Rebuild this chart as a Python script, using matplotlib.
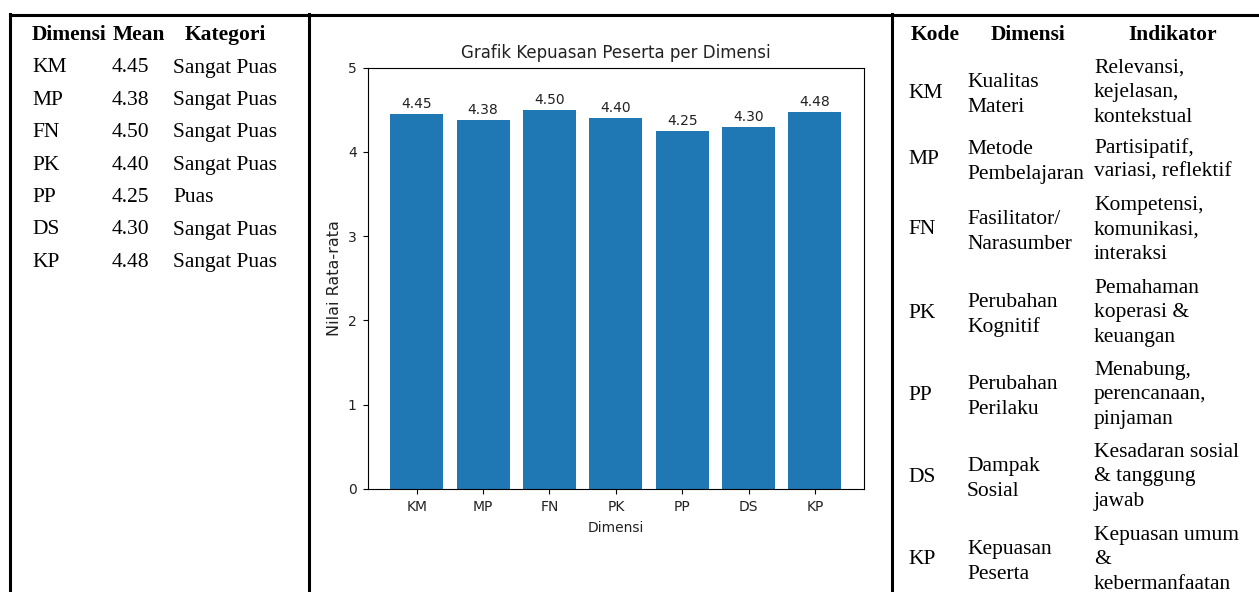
import matplotlib
matplotlib.use("Agg")
import matplotlib.pyplot as plt
from matplotlib.lines import Line2D

# Data
codes = ["KM", "MP", "FN", "PK", "PP", "DS", "KP"]
means = [4.45, 4.38, 4.50, 4.40, 4.25, 4.30, 4.48]
categories = ["Sangat Puas", "Sangat Puas", "Sangat Puas", "Sangat Puas",
              "Puas", "Sangat Puas", "Sangat Puas"]
dim_names = ["Kualitas\nMateri", "Metode\nPembelajaran", "Fasilitator/\nNarasumber",
             "Perubahan\nKognitif", "Perubahan\nPerilaku", "Dampak\nSosial",
             "Kepuasan\nPeserta"]
indicators = ["Relevansi,\nkejelasan,\nkontekstual",
              "Partisipatif,\nvariasi, reflektif",
              "Kompetensi,\nkomunikasi,\ninteraksi",
              "Pemahaman\nkoperasi &\nkeuangan",
              "Menabung,\nperencanaan,\npinjaman",
              "Kesadaran sosial\n& tanggung\njawab",
              "Kepuasan umum\n&\nkebermanfaatan"]

W, H = 1259, 592
fig = plt.figure(figsize=(W / 100, H / 100), dpi=100, facecolor="white")

def fx(x):
    return x / W

def fy(y):
    return 1 - y / H

SERIF = "Liberation Serif"
FS = 15.5

# cell borders
def hline(x0, x1, y):
    fig.add_artist(Line2D([fx(x0), fx(x1)], [fy(y), fy(y)], color="black", lw=2.2))

def vline(x, y0, y1):
    fig.add_artist(Line2D([fx(x), fx(x)], [fy(y0), fy(y1)], color="black", lw=2.2))

hline(9.5, W, 14.5)
vline(10.5, 13.5, H)
vline(308.5, 13.5, H)
vline(891.5, 13.5, H)

# left table
left_cols = [32, 112, 173]
fig.text(fx(32), fy(35), "Dimensi", fontsize=FS, fontweight="bold", family=SERIF, va="center")
fig.text(fx(113), fy(35), "Mean", fontsize=FS, fontweight="bold", family=SERIF, va="center")
fig.text(fx(185), fy(35), "Kategori", fontsize=FS, fontweight="bold", family=SERIF, va="center")
for i, (c, m, k) in enumerate(zip(codes, means, categories)):
    y = 68 + 32.4 * i
    fig.text(fx(left_cols[0]), fy(y), c, fontsize=FS, family=SERIF, va="center")
    fig.text(fx(left_cols[1]), fy(y), f"{m:.2f}", fontsize=FS, family=SERIF, va="center")
    fig.text(fx(left_cols[2]), fy(y), k, fontsize=FS, family=SERIF, va="center")

# right table
fig.text(fx(911), fy(35), "Kode", fontsize=FS, fontweight="bold", family=SERIF, va="center")
fig.text(fx(1028), fy(35), "Dimensi", fontsize=FS, fontweight="bold", family=SERIF,
         va="center", ha="center")
fig.text(fx(1173), fy(35), "Indikator", fontsize=FS, fontweight="bold", family=SERIF,
         va="center", ha="center")
row_centers = [93, 160, 230, 313, 395, 477, 560]
LS = 24.5

def block(x, yc, txt):
    lines = txt.split("\n")
    n = len(lines)
    for j, ln in enumerate(lines):
        y = yc + (j - (n - 1) / 2) * LS
        fig.text(fx(x), fy(y), ln, fontsize=FS, family=SERIF, va="center")

for c, d, ind, yc in zip(codes, dim_names, indicators, row_centers):
    fig.text(fx(908), fy(yc), c, fontsize=FS, family=SERIF, va="center")
    block(967, yc + 2, d)
    block(1094, yc, ind)

# chart
ax = fig.add_axes([fx(367.7), fy(489), fx(864) - fx(367.7), (489 - 67.7) / H])
bars = ax.bar(codes, means, color="#1f77b4")
ax.bar_label(bars, labels=[f"{m:.2f}" for m in means], padding=2, fontsize=10,
             color="#222222")
ax.set_ylim(0, 5)
ax.tick_params(labelsize=10, labelcolor="#222222", pad=4.5)
ax.set_title("Grafik Kepuasan Peserta per Dimensi", fontsize=12, color="#222222", pad=7)
ax.set_xlabel("Dimensi", fontsize=10, labelpad=5, color="#222222")
ax.set_ylabel("Nilai Rata-rata", fontsize=11.5, color="#222222")

fig.savefig("out.png", dpi=100)
